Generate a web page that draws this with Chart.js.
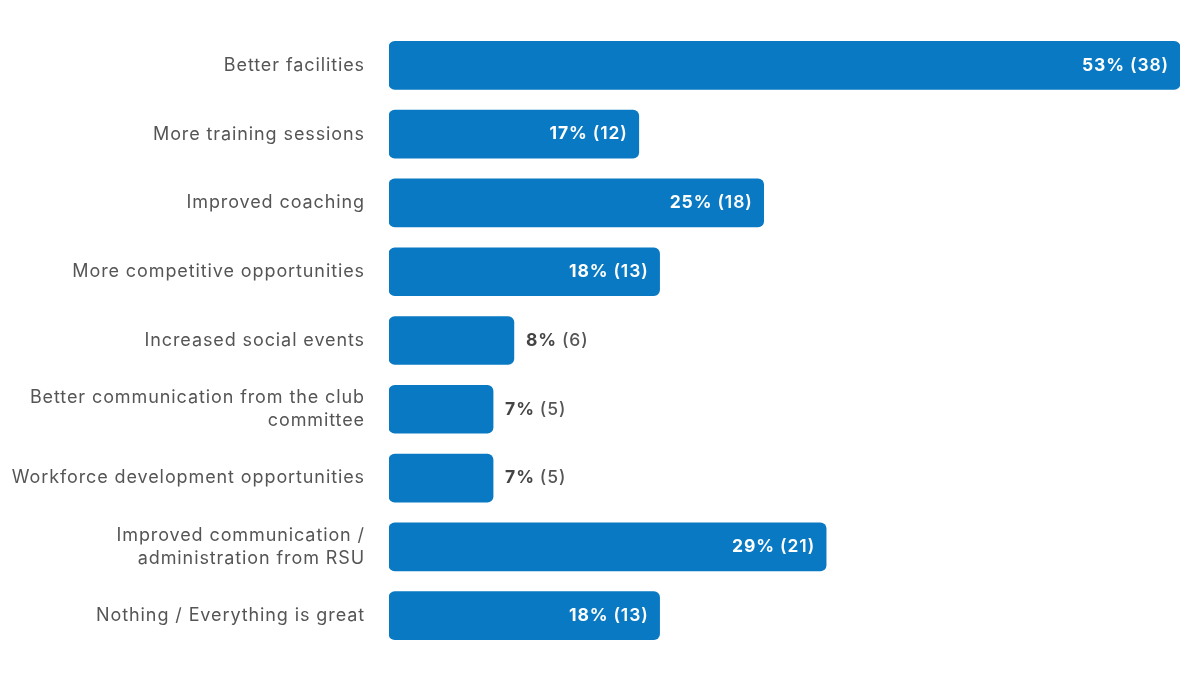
<!DOCTYPE html>
<html>
<head>
<meta charset="utf-8">
<script src="https://cdn.jsdelivr.net/npm/chart.js@4"></script>
<style>
  html, body { margin: 0; padding: 0; background: #fff; }
  #wrap { width: 1182px; height: 680px; }
</style>
</head>
<body>
<div id="wrap"><canvas id="improve" width="1182" height="680"></canvas></div>
<script>
  const categories = [
    "Better facilities",
    "More training sessions",
    "Improved coaching",
    "More competitive opportunities",
    "Increased social events",
    ["Better communication from the club", "committee"],
    "Workforce development opportunities",
    ["Improved communication /", "administration from RSU"],
    "Nothing / Everything is great",
  ];
  const counts = [38, 12, 18, 13, 6, 5, 5, 21, 13];
  const percents = [53, 17, 25, 18, 8, 7, 7, 29, 18];

  const FONT = "Inter, 'Open Sans', sans-serif";
  const BLUE = "#0979c3";
  const SPACING = "0.9px";

  // slightly wider tracking for every piece of text on the canvas
  const tracking = {
    id: "tracking",
    beforeDraw(chart) {
      chart.ctx.letterSpacing = SPACING;
    },
  };

  // prints "53% (38)" at the end of each bar, inside when the bar is long enough
  const valueLabels = {
    id: "valueLabels",
    afterDatasetsDraw(chart) {
      const ctx = chart.ctx;
      const meta = chart.getDatasetMeta(0);
      meta.data.forEach((bar, i) => {
        const pct = percents[i] + "% ";
        const cnt = "(" + counts[i] + ")";
        ctx.save();
        ctx.letterSpacing = SPACING;
        ctx.textBaseline = "middle";
        ctx.font = "700 17.5px " + FONT;
        const w1 = ctx.measureText(pct).width;
        ctx.font = "600 17.5px " + FONT;
        const w2 = ctx.measureText(cnt).width;
        const barW = bar.x - bar.base;
        if (w1 + w2 + 80 <= barW) {
          const end = bar.x - 11;
          ctx.fillStyle = "#ffffff";
          ctx.textAlign = "right";
          ctx.font = "600 17.5px " + FONT;
          ctx.fillText(cnt, end, bar.y);
          ctx.font = "700 17.5px " + FONT;
          ctx.fillText(pct, end - w2, bar.y);
        } else {
          const start = bar.x + 12;
          ctx.textAlign = "left";
          ctx.fillStyle = "#444444";
          ctx.font = "700 17.5px " + FONT;
          ctx.fillText(pct, start, bar.y);
          ctx.fillStyle = "#555555";
          ctx.font = "500 17.5px " + FONT;
          ctx.fillText(cnt, start + w1, bar.y);
        }
        ctx.restore();
      });
    },
  };

  new Chart(document.getElementById("improve"), {
    type: "bar",
    data: {
      labels: categories,
      datasets: [
        {
          data: counts,
          backgroundColor: BLUE,
          borderRadius: 6,
          borderSkipped: false,
          barThickness: 48,
        },
      ],
    },
    options: {
      indexAxis: "y",
      responsive: false,
      animation: false,
      layout: { padding: { top: 31, bottom: 30, left: 0, right: 2 } },
      scales: {
        x: {
          display: false,
          min: 0,
          max: 38,
        },
        y: {
          grid: { display: false },
          border: { display: false },
          ticks: {
            color: "#555555",
            padding: 16,
            font: { family: FONT, size: 18, lineHeight: 1.3 },
          },
          afterFit(scale) {
            scale.width = 389; // bars start at the same x for every row
          },
        },
      },
      plugins: {
        legend: { display: false },
        tooltip: { enabled: false },
      },
    },
    plugins: [tracking, valueLabels],
  });
</script>
</body>
</html>
